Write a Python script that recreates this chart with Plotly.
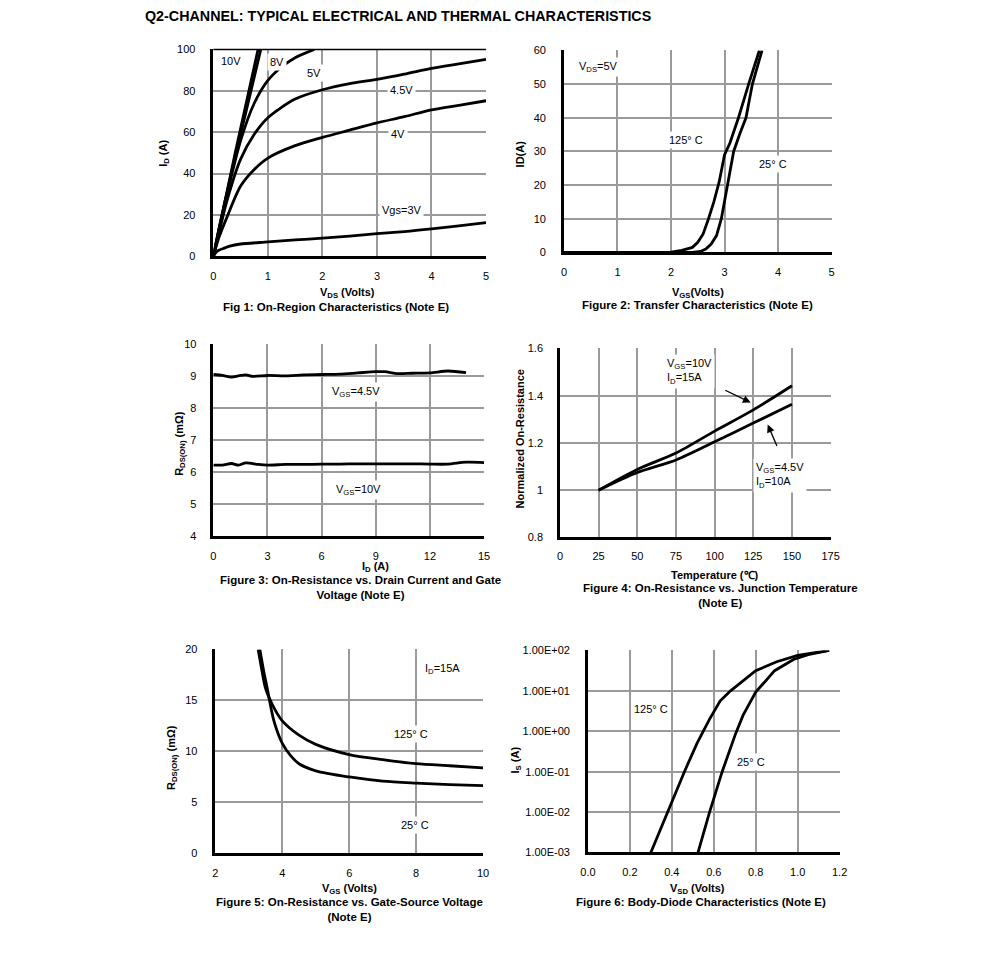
import plotly.graph_objects as go

W, H = 991, 976
FONT = "Liberation Sans, Arial, sans-serif"
# measured photo mapping: shown = o + s * page
SX, OX = 0.984, 6.4
SY, OY = 0.9876, 5.6

# ---------------- Fig 1 data ----------------
f1_vds_10 = [0, 0.4, 0.82]
f1_id_10 = [0, 50, 100]
f1_vds_8 = [0, 0.2, 0.4, 0.6, 0.87]
f1_id_8 = [0, 25, 48, 70, 100]
f1_vds_5 = [0, 0.1, 0.25, 0.5, 0.75, 1.0, 1.25, 1.5, 1.85]
f1_id_5 = [0, 13, 30, 56, 74, 85, 91.5, 96, 100]
f1_vds_45 = [0, 0.1, 0.25, 0.5, 0.75, 1, 1.5, 2, 2.5, 3, 3.5, 4, 4.5, 5]
f1_id_45 = [0, 11, 27, 47, 59, 67, 76, 80.5, 83.5, 85.5, 88, 90.8, 93, 95.2]
f1_vds_4 = [0, 0.1, 0.25, 0.5, 0.75, 1, 1.5, 2, 2.5, 3, 3.5, 4, 4.5, 5]
f1_id_4 = [0, 9, 19, 34, 42, 47.5, 53.5, 57.5, 61, 64.5, 67.5, 70.8, 73, 75.2]
f1_vds_3 = [0, 0.05, 0.1, 0.2, 0.3, 0.5, 1, 1.5, 2, 2.5, 3, 3.5, 4, 4.5, 5]
f1_id_3 = [0, 2, 3, 4, 5, 6, 7, 8, 8.8, 9.8, 11, 12, 13.3, 14.8, 16.3]

# ---------------- Fig 2 data ----------------
f2_vgs_125 = [0, 1.8, 2.0, 2.2, 2.4, 2.5, 2.6, 2.7, 2.8, 2.9, 3.0, 3.1, 3.26, 3.45, 3.65]
f2_id_125 = [0, 0, 0.1, 0.6, 1.5, 3, 5.5, 10, 15, 21, 29, 32.5, 40, 50, 60]
f2_vgs_25 = [0, 2.4, 2.55, 2.65, 2.75, 2.85, 2.94, 3.0, 3.06, 3.12, 3.17, 3.28, 3.4, 3.52, 3.7]
f2_id_25 = [0, 0, 0.3, 1, 2.5, 5, 10, 15, 20, 25, 30, 35, 40, 50, 60]

# ---------------- Fig 3 data ----------------
f3_id_45 = [0, 0.5, 1, 1.5, 1.8, 2.2, 3, 4, 5, 6, 7, 8, 9, 9.5, 10.2, 11, 12, 13, 14]
f3_r_45 = [9.06, 9.03, 8.98, 9.03, 9.05, 9.0, 9.03, 9.02, 9.05, 9.06, 9.07, 9.11, 9.15, 9.15, 9.09, 9.1, 9.11, 9.17, 9.12]
f3_id_10 = [0, 0.5, 1, 1.4, 1.8, 2.5, 3, 4, 5, 6, 7, 8, 9, 10, 11, 12, 13, 14, 15]
f3_r_10 = [6.23, 6.23, 6.28, 6.23, 6.3, 6.25, 6.23, 6.25, 6.25, 6.26, 6.26, 6.27, 6.27, 6.27, 6.27, 6.26, 6.26, 6.32, 6.31]

# ---------------- Fig 4 data ----------------
f4_temp = [25, 50, 75, 100, 125, 150]
f4_r_10v = [1.0, 1.088, 1.157, 1.25, 1.34, 1.442]
f4_r_45v = [1.0, 1.075, 1.128, 1.205, 1.284, 1.364]

# ---------------- Fig 5 data ----------------
f5_vgs_125 = [3.28, 3.4, 3.5, 3.75, 4.0, 4.5, 5, 6, 7, 8, 9, 10]
f5_r_125 = [20, 17.8, 16.2, 14.3, 13.0, 11.6, 10.7, 9.7, 9.2, 8.8, 8.6, 8.4]
f5_vgs_25 = [3.33, 3.45, 3.55, 3.75, 4.0, 4.25, 4.5, 5, 6, 7, 8, 9, 10]
f5_r_25 = [20, 17.8, 16.2, 13.0, 10.8, 9.6, 8.8, 8.1, 7.5, 7.1, 6.9, 6.75, 6.65]

# ---------------- Fig 6 data ----------------
f6_vsd_125 = [0.30, 0.38, 0.46, 0.52, 0.58, 0.63, 0.68, 0.8, 0.9, 1.0, 1.15]
f6_is_125 = [1e-3, 1e-2, 1e-1, 0.5, 2.0, 5.6, 10, 31.6, 52.5, 75.9, 100]
f6_vsd_25 = [0.525, 0.58, 0.64, 0.705, 0.74, 0.8, 0.89, 0.98, 1.05, 1.15]
f6_is_25 = [1e-3, 1e-2, 1e-1, 0.9, 2.5, 9.3, 31.6, 60, 79, 100]
f6_ticks = [1e-3, 1e-2, 1e-1, 1, 10, 100]
f6_ticktext = ["1.00E-03", "1.00E-02", "1.00E-01", "1.00E+00", "1.00E+01", "1.00E+02"]


def px(x):
    return ((x - OX) / SX) / W


def py(y):
    return 1 - ((y - OY) / SY) / H


GRID = "#9a9a9a"

fig = go.Figure()


def add(xs, ys, n, shape="spline"):
    ax = "" if n == 1 else str(n)
    fig.add_trace(go.Scatter(x=xs, y=ys, mode="lines", xaxis="x" + ax, yaxis="y" + ax,
                             line=dict(color="black", width=2.8, shape=shape, smoothing=0.8),
                             showlegend=False, hoverinfo="skip"))


add(f1_vds_10, f1_id_10, 1)
add(f1_vds_8, f1_id_8, 1)
add(f1_vds_5, f1_id_5, 1)
add(f1_vds_45, f1_id_45, 1)
add(f1_vds_4, f1_id_4, 1)
add(f1_vds_3, f1_id_3, 1)
add(f2_vgs_125, f2_id_125, 2, "linear")
add(f2_vgs_25, f2_id_25, 2, "linear")
add(f3_id_45, f3_r_45, 3)
add(f3_id_10, f3_r_10, 3)
add(f4_temp, f4_r_10v, 4)
add(f4_temp, f4_r_45v, 4)
add(f5_vgs_125, f5_r_125, 5)
add(f5_vgs_25, f5_r_25, 5)
add(f6_vsd_125, f6_is_125, 6, "linear")
add(f6_vsd_25, f6_is_25, 6, "linear")

tickfont = dict(family=FONT, size=11, color="black")


def axis(domain, rng, dtick=None, anchor=None, standoff=10, **kw):
    d = dict(domain=domain, range=rng, showline=True, linecolor="black", linewidth=2.5,
             showgrid=True, gridcolor=GRID, gridwidth=1.6, zeroline=False, ticks="",
             tickfont=tickfont, anchor=anchor, fixedrange=True, ticklabelstandoff=standoff)
    if dtick is not None:
        d["dtick"] = dtick
        d["tick0"] = rng[0]
    d.update(kw)
    return d


doms = {
    1: ((212, 485), (49, 256)),
    2: ((563, 831), (50, 252)),
    3: ((212, 483), (344, 536)),
    4: ((559, 830), (348, 537)),
    5: ((214, 482), (649, 853)),
    6: ((587, 839), (650, 852)),
}


def xd(n):
    a, b = doms[n][0]
    return [px(a), px(b)]


def yd(n):
    t, b = doms[n][1]
    return [py(b), py(t)]


XS, YS = 8, 13
layout = dict(
    width=W, height=H, margin=dict(l=0, r=0, t=0, b=0),
    paper_bgcolor="white", plot_bgcolor="white", showlegend=False,
    font=dict(family=FONT, color="black"),
    xaxis=axis(xd(1), [0, 5], 1, "y", XS),
    yaxis=axis(yd(1), [0, 100], 20, "x", YS),
    xaxis2=axis(xd(2), [0, 5], 1, "y2", XS),
    yaxis2=axis(yd(2), [0, 60], 10, "x2", YS),
    xaxis3=axis(xd(3), [0, 15], 3, "y3", XS),
    yaxis3=axis(yd(3), [4, 10], 1, "x3", YS - 1),
    xaxis4=axis(xd(4), [0, 175], 25, "y4", XS - 1),
    yaxis4=axis(yd(4), [0.8, 1.6], 0.2, "x4", YS - 1),
    xaxis5=axis(xd(5), [2, 10], 2, "y5", XS),
    yaxis5=axis(yd(5), [0, 20], 5, "x5", YS),
    xaxis6=axis(xd(6), [0, 1.2], 0.2, "y6", XS, tickformat=".1f"),
    yaxis6=axis(yd(6), [-3, 2], None, "x6", YS, type="log", tickvals=f6_ticks, ticktext=f6_ticktext),
)
fig.update_layout(**layout)

ann = []


def txt(text, x, y, size=11, bold=False, xanchor="center", yanchor="middle", angle=0, align="center", pad=1):
    t = "<b>" + text + "</b>" if bold else text
    ann.append(dict(text=t, x=px(x), y=py(y), xref="paper", yref="paper", showarrow=False,
                    xanchor=xanchor, yanchor=yanchor, textangle=angle, align=align, borderpad=pad,
                    font=dict(family=FONT, size=size, color="black")))


def lab(text, x, y, n, align="center", xanchor="center"):
    ax = "" if n == 1 else str(n)
    ann.append(dict(text=text, x=x, y=y, xref="x" + ax, yref="y" + ax, showarrow=False,
                    bgcolor="white", align=align, xanchor=xanchor, borderpad=2,
                    font=dict(family=FONT, size=11, color="black")))


CAP = 11.5

# Title
txt("Q2-CHANNEL: TYPICAL ELECTRICAL AND THERMAL CHARACTERISTICS", 143, 15.5, size=14.3, bold=True,
    xanchor="left", pad=0)

# Fig 1
lab("10V", 0.33, 94.2, 1)
lab("8V", 1.16, 94, 1)
lab("5V", 1.85, 88.4, 1)
lab("4.5V", 3.45, 80.2, 1)
lab("4V", 3.38, 59, 1)
lab("Vgs=3V", 3.45, 22.2, 1)
txt("I<sub>D</sub> (A)", 163, 153, bold=True, angle=-90)
txt("V<sub>DS</sub> (Volts)", 346, 293, bold=True)
txt("Fig 1: On-Region Characteristics (Note E)", 335, 307, size=CAP, bold=True)

# Fig 2
lab("V<sub>DS</sub>=5V", 0.65, 55.2, 2)
lab("125° C", 2.28, 33.3, 2)
lab("25° C", 3.9, 26.4, 2)
txt("ID(A)", 519, 153, bold=True, angle=-90)
txt("V<sub>GS</sub>(Volts)", 697, 293, bold=True)
txt("Figure 2: Transfer Characteristics (Note E)", 697, 305, size=CAP, bold=True)

# Fig 3
lab("V<sub>GS</sub>=4.5V", 7.91, 8.5, 3)
lab("V<sub>GS</sub>=10V", 8.02, 5.44, 3)
txt("R<sub>DS(ON)</sub> (mΩ)", 179, 443, bold=True, angle=-90)
txt("I<sub>D</sub> (A)", 374, 567, bold=True, pad=0)
txt("Figure 3: On-Resistance vs. Drain Current and Gate<br>Voltage (Note E)", 359, 587, size=CAP, bold=True)

# Fig 4
lab("V<sub>GS</sub>=10V<br>I<sub>D</sub>=15A", 67.5, 1.503, 4, align="left", xanchor="left")
lab("V<sub>GS</sub>=4.5V<br>I<sub>D</sub>=10A", 124.5, 1.062, 4, align="left", xanchor="left")
ann.append(dict(x=123.3, y=1.371, ax=105.9, ay=1.426, xref="x4", yref="y4", axref="x4", ayref="y4",
                text="", showarrow=True, arrowhead=2, arrowsize=1.2, arrowwidth=1.3, arrowcolor="black"))
ann.append(dict(x=134.3, y=1.278, ax=140.7, ay=1.181, xref="x4", yref="y4", axref="x4", ayref="y4",
                text="", showarrow=True, arrowhead=2, arrowsize=1.2, arrowwidth=1.3, arrowcolor="black"))
txt("Normalized On-Resistance", 519, 438, bold=True, angle=-90)
txt("Temperature (℃)", 714, 575, bold=True)
txt("Figure 4: On-Resistance vs. Junction Temperature<br>(Note E)", 720, 595, size=CAP, bold=True)

# Fig 5
lab("I<sub>D</sub>=15A", 8.78, 18.04, 5)
lab("125° C", 7.85, 11.67, 5)
lab("25° C", 7.97, 2.75, 5)
txt("R<sub>DS(ON)</sub> (mΩ)", 171, 757, bold=True, angle=-90)
txt("V<sub>GS</sub> (Volts)", 348, 889, bold=True)
txt("Figure 5: On-Resistance vs. Gate-Source Voltage<br>(Note E)", 348, 909, size=CAP, bold=True)

# Fig 6
lab("125° C", 0.30, 0.54, 6)
lab("25° C", 0.776, -0.75, 6)
txt("I<sub>S</sub> (A)", 515, 760, bold=True, angle=-90)
txt("V<sub>SD</sub> (Volts)", 697, 889, bold=True)
txt("Figure 6: Body-Diode Characteristics (Note E)", 700, 902, size=CAP, bold=True)

fig.update_layout(annotations=ann)

# dark top border of Fig 1
fig.add_shape(type="line", xref="x domain", yref="y domain", x0=0, x1=1, y0=1, y1=1,
              line=dict(color="black", width=1.5))

fig.write_html("out.html", config={"displayModeBar": False},
               post_script="document.body.style.margin='0';document.body.style.overflow='hidden';")
